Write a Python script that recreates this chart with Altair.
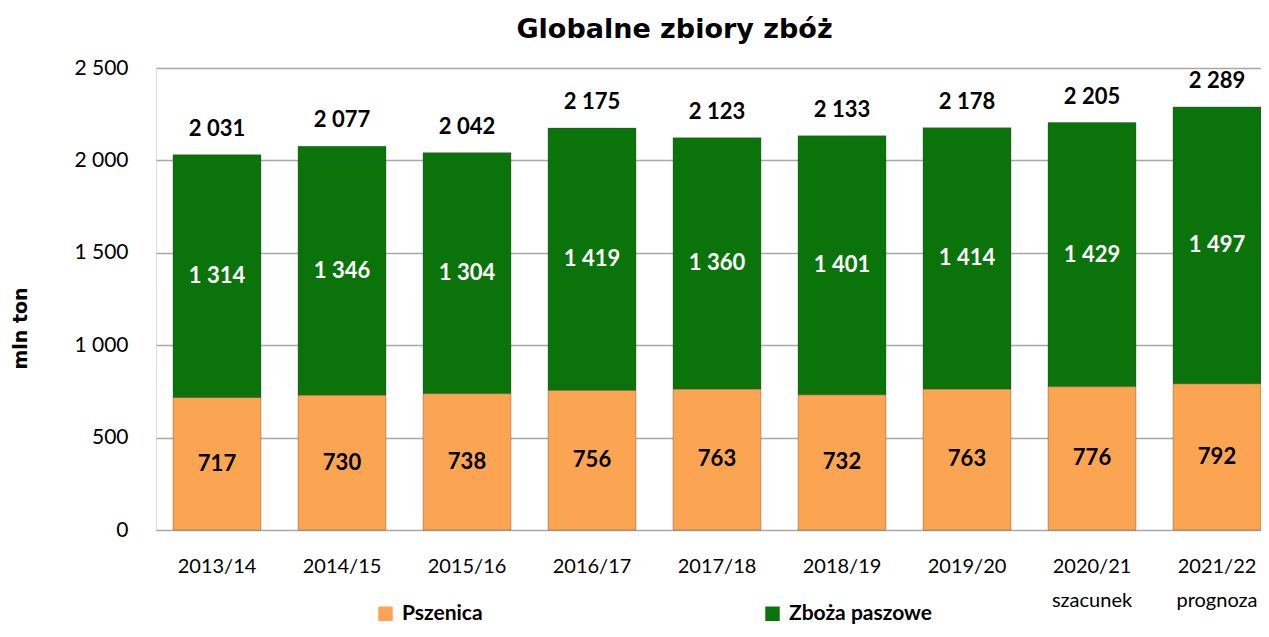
import altair as alt
import pandas as pd

seasons = ["2013/14", "2014/15", "2015/16", "2016/17", "2017/18",
           "2018/19", "2019/20", "2020/21 szacunek", "2021/22 prognoza"]
wheat = [717, 730, 738, 756, 763, 732, 763, 776, 792]
feed = [1314, 1346, 1304, 1419, 1360, 1401, 1414, 1429, 1497]
totals = [2031, 2077, 2042, 2175, 2123, 2133, 2178, 2205, 2289]
series_names = ["Pszenica", "Zboża paszowe"]
series_colors = ["#FBA452", "#0A740A"]
y_ticks = [0, 500, 1000, 1500, 2000, 2500]

rows = []
for s, w, f in zip(seasons, wheat, feed):
    rows.append({"season": s, "series": series_names[0], "value": w, "ord": 0})
    rows.append({"season": s, "series": series_names[1], "value": f, "ord": 1})
df = pd.DataFrame(rows)
tot_df = pd.DataFrame({"season": seasons, "total": totals})

label_font = "Lato"

x_scale = alt.Scale(paddingInner=0.296, paddingOuter=0.068, align=1)
x_enc = alt.X("season:N", sort=seasons, title=None, scale=x_scale,
              axis=alt.Axis(labelExpr="split(datum.label, ' ')", labelAngle=0,
                            labelFontSize=20, labelFont=label_font, labelColor="#000000",
                            labelPadding=26, labelLineHeight=34,
                            domain=False, ticks=False))

y_scale = alt.Scale(domain=[0, 2500])

bars = alt.Chart(df).mark_bar(stroke="#3a3a3a", strokeWidth=0.7, strokeOpacity=0.45).encode(
    x=x_enc,
    y=alt.Y("sum(value):Q", scale=y_scale, stack="zero",
            title="mln ton",
            axis=alt.Axis(values=y_ticks,
                          labelExpr="replace(format(datum.value, ','), ',', ' ')",
                          labelFontSize=21, labelFont=label_font, labelColor="#000000",
                          labelPadding=28, domain=False, ticks=False,
                          grid=True, gridColor="#A8A8A8", gridWidth=1.5,
                          titleFont="DejaVu Sans", titleFontSize=19, titleFontWeight="bold",
                          titleColor="#000000", titleAngle=270,
                          titleAlign="center", titleBaseline="middle",
                          titleX=-136, titleY=260)),
    color=alt.Color("series:N",
                    scale=alt.Scale(domain=series_names, range=series_colors),
                    legend=alt.Legend(title=None, orient="none", direction="horizontal",
                                      legendX=219, legendY=535,
                                      symbolType="square", symbolSize=210,
                                      symbolStrokeWidth=0,
                                      labelFontSize=21, labelFont=label_font,
                                      labelFontWeight="bold", labelColor="#000000",
                                      labelOffset=6, columnPadding=279)),
    order=alt.Order("ord:Q"),
)

seg_labels = alt.Chart(df).transform_stack(
    stack="value", as_=["y0", "y1"], groupby=["season"],
    sort=[alt.SortField("ord", order="ascending")]
).transform_calculate(
    mid="(datum.y0 + datum.y1) / 2",
    lbl="replace(format(datum.value, ','), ',', ' ')"
).mark_text(fontSize=22, fontWeight="bold", font=label_font, baseline="middle").encode(
    x=alt.X("season:N", sort=seasons, scale=x_scale),
    y=alt.Y("mid:Q", scale=y_scale),
    text="lbl:N",
    color=alt.condition(alt.datum.series == "Pszenica", alt.value("#000000"), alt.value("#FFFFFF")),
)

tot_labels = alt.Chart(tot_df).transform_calculate(
    lbl="replace(format(datum.total, ','), ',', ' ')"
).mark_text(fontSize=22, fontWeight="bold", font=label_font, baseline="middle", dy=-26,
            color="#000000").encode(
    x=alt.X("season:N", sort=seasons, scale=x_scale),
    y=alt.Y("total:Q", scale=y_scale),
    text="lbl:N",
)

chart = alt.layer(bars, seg_labels, tot_labels).properties(
    width=1105, height=462,
    autosize=alt.AutoSizeParams(type="none"),
    padding={"left": 148, "top": 60, "right": 0, "bottom": 99},
    title=alt.Title("Globalne zbiory zbóż", font="DejaVu Sans", fontSize=27,
                    fontWeight="bold", color="#000000", anchor="middle", offset=13,
                    dx=-34),
).configure_view(stroke=None).configure(background="#FFFFFF")

chart.save("out.html", embed_options={"renderer": "svg", "actions": False})
